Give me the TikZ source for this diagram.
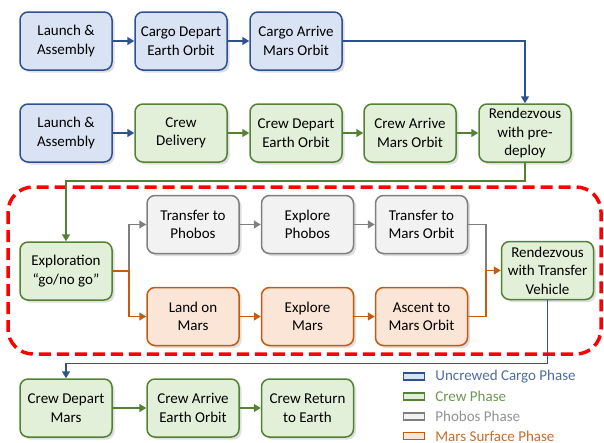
\documentclass[tikz,border=0pt]{standalone}
\usepackage{fontspec}
\setmainfont{Carlito}
\usetikzlibrary{arrows.meta}
\usetikzlibrary{shadows}
\usetikzlibrary{positioning}

\definecolor{cargoline}{HTML}{2F528F}
\definecolor{cargofill}{HTML}{DAE3F3}
\definecolor{crewline}{HTML}{548235}
\definecolor{crewfill}{HTML}{E2F0D9}
\definecolor{phobosline}{HTML}{7F7F7F}
\definecolor{phobosfill}{HTML}{F2F2F2}
\definecolor{marsline}{HTML}{C55A11}
\definecolor{marsfill}{HTML}{FBE5D6}

\tikzset{
  phase/.style={draw, rounded corners=8pt, line width=1.5pt,
    minimum width=92pt, minimum height=58pt, inner sep=2pt, align=center,
    font=\fontsize{15}{18.5}\selectfont,
    drop shadow={opacity=0.25, shadow xshift=2.5pt, shadow yshift=-2.5pt}},
  cargo/.style={phase, draw=cargoline, fill=cargofill},
  crew/.style={phase, draw=crewline, fill=crewfill},
  phobos/.style={phase, draw=phobosline, fill=phobosfill},
  mars/.style={phase, draw=marsline, fill=marsfill},
  link/.style={line width=1.5pt, draw=#1, -{Triangle[length=7pt,width=8pt]}},
  plain/.style={line width=1.5pt, draw=#1},
  keybox/.style={draw=#1, line width=1.4pt, minimum width=21pt, minimum height=7pt, inner sep=0pt},
  keytext/.style={text=#1, font=\fontsize{15}{17}\selectfont, anchor=west, inner sep=0pt}
}

\begin{document}
\begin{tikzpicture}[x=1pt, y=-1pt]
\useasboundingbox (0,0) rectangle (604,442);

%exploration zone
\draw[red, line width=3.5pt, dash pattern=on 12pt off 6pt, rounded corners=25pt]
  (8,187) rectangle (601,354);

%cargo row
\node[cargo] (cla) at (66,41) {Launch \&\\Assembly};
\node[cargo] (cde) at (181,41) {Cargo Depart\\Earth Orbit};
\node[cargo] (cam) at (296,41) {Cargo Arrive\\Mars Orbit};

%crew row
\node[cargo] (wla) at (66,133) {Launch \&\\Assembly};
\node[crew] (wcd) at (181,133) {Crew\\Delivery};
\node[crew] (wde) at (296,133) {Crew Depart\\Earth Orbit};
\node[crew] (wam) at (410,133) {Crew Arrive\\Mars Orbit};
\node[crew] (wrv) at (525,133) {Rendezvous\\with pre-\\deploy};

%exploration
\node[crew] (exp) at (66,271) {Exploration\\``go/no go''};
\node[phobos] (ptp) at (193,224.5) {Transfer to\\Phobos};
\node[phobos] (pex) at (307.5,224.5) {Explore\\Phobos};
\node[phobos] (ptm) at (421.5,224.5) {Transfer to\\Mars Orbit};
\node[mars] (mla) at (193,316.5) {Land on\\Mars};
\node[mars] (mex) at (307.5,316.5) {Explore\\Mars};
\node[mars] (mas) at (421.5,316.5) {Ascent to\\Mars Orbit};
\node[crew] (rtv) at (547.5,270.5) {Rendezvous\\with Transfer\\Vehicle};
\coordinate (split) at (129,271);
\coordinate (merge) at (486,270.5);

%return row
\node[crew] (rdm) at (66,408) {Crew Depart\\Mars};
\node[crew] (rae) at (193,408) {Crew Arrive\\Earth Orbit};
\node[crew] (rre) at (307.5,408) {Crew Return\\to Earth};

%connectors
\draw[link=cargoline] (cla) -- (cde);
\draw[link=cargoline] (cde) -- (cam);
\draw[link=cargoline] (cam.east) -| (wrv.north);
\draw[link=cargoline] (wla) -- (wcd);
\draw[link=crewline] (wcd) -- (wde);
\draw[link=crewline] (wde) -- (wam);
\draw[link=crewline] (wam) -- (wrv);
\draw[link=crewline] (wrv.south) -- ++(0,18) -| (exp.north);

\draw[link=phobosline] (split) |- (ptp.west);
\draw[link=phobosline] (ptp) -- (pex);
\draw[link=phobosline] (pex) -- (ptm);
\draw[plain=phobosline] (ptm.east) -| (merge);
\draw[link=marsline] (exp.east) -- (split) |- (mla.west);
\draw[link=marsline] (mla) -- (mex);
\draw[link=marsline] (mex) -- (mas);
\draw[link=marsline] (mas.east) -| (merge) -- (rtv.west);

\draw[link=cargoline] (rtv.south) -- ++(0,63) -| (rdm.north);
\draw[link=crewline] (rdm) -- (rae);
\draw[link=crewline] (rae) -- (rre);

%legend
\node[keybox=cargoline, fill=cargofill] (kca) at (414,376.5) {};
\node[keybox=crewline, fill=crewfill] (kcr) at (414,396.5) {};
\node[keybox=phobosline, fill=phobosfill] (kph) at (414,416.5) {};
\node[keybox=marsline, fill=marsfill] (kma) at (414,436) {};
\node[keytext=cargoline!85!white, right=10pt of kca] {Uncrewed Cargo Phase};
\node[keytext=crewline!85!white, right=10pt of kcr] {Crew Phase};
\node[keytext=phobosline!85!white, right=10pt of kph] {Phobos Phase};
\node[keytext=marsline!90!white, right=10pt of kma] {Mars Surface Phase};
\end{tikzpicture}
\end{document}
